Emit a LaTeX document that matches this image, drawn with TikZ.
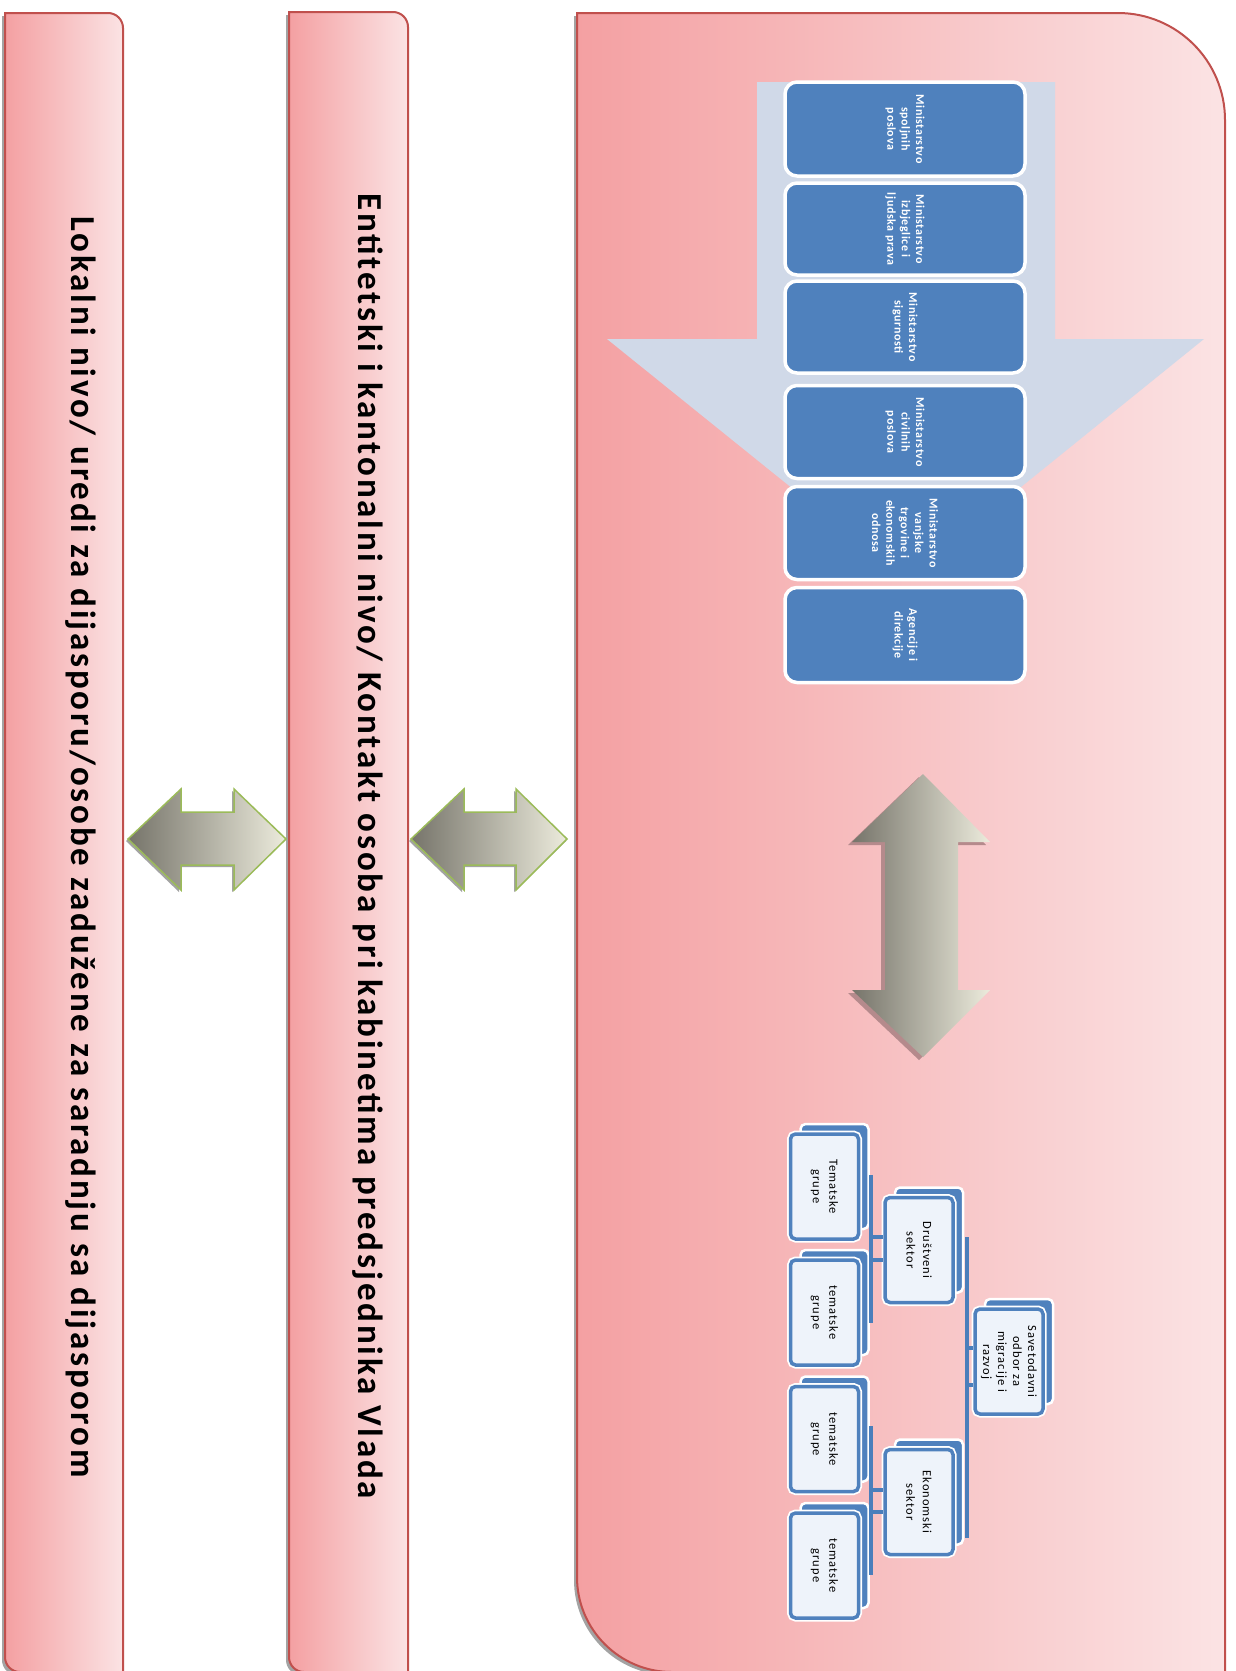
\documentclass[tikz,border=0pt]{standalone}
\usepackage{fontspec}
\setmainfont{Carlito}
\newfontfamily\barfont[LetterSpace=8]{Carlito}
\newfontfamily\boxfont[LetterSpace=5]{Carlito}
\newfontfamily\orgfont[LetterSpace=8]{Carlito}
\definecolor{barL}{HTML}{F4A0A2}
\definecolor{barR}{HTML}{FBE3E4}
\definecolor{barB}{HTML}{C0504D}
\definecolor{shd}{HTML}{A3A3A3}
\definecolor{blueB}{HTML}{4F81BD}
\definecolor{busB}{HTML}{4A7EBB}
\definecolor{arrBlue}{HTML}{D0D9E8}
\definecolor{arrD}{HTML}{76746A}
\definecolor{arrL}{HTML}{ECEBDC}
\definecolor{arrG}{HTML}{9BBB59}
\definecolor{ofill}{HTML}{EEF3FA}
\definecolor{vshd}{HTML}{B58A8C}
\tikzset{
  barshade/.style={left color=barL, right color=barR, draw=barB, line width=2pt},
  bartext/.style={rotate=-90, font=\barfont\fontsize{35}{40}\selectfont\bfseries, inner sep=0pt},
  minbox/.style={rotate=-90, fill=blueB, draw=white, line width=3.5pt, rounded corners=12pt,
    minimum height=240pt, minimum width=93pt, text=white, align=center, inner sep=0pt,
    font=\boxfont\fontsize{12}{14.4}\selectfont\bfseries},
  hexarrow/.style={left color=arrD, right color=arrL, draw=arrG, line width=1.5pt},
  orgback/.style={rotate=-90, fill=blueB, draw=white, line width=2.5pt, rounded corners=5pt,
    minimum width=105pt, minimum height=68pt, inner sep=0pt},
  orgfront/.style={rotate=-90, fill=ofill, draw=blueB, line width=3.5pt, rounded corners=5pt,
    minimum width=105pt, minimum height=68pt, inner sep=0pt, align=center,
    preaction={draw=white, line width=7pt},
    font=\orgfont\fontsize{12.5}{16.5}\selectfont},
  bus/.style={draw=busB, line width=4pt}
}
\begin{document}
\begin{tikzpicture}[x=1pt,y=-1pt]
\useasboundingbox (0,0) rectangle (1235,1671);
\fill[white] (0,0) rectangle (1235,1671);

% ---- left bar ----
\fill[shd] (2,16) -- (105,16) .. controls (113.3,16) and (120,22.7) .. (120,31) -- (120,1675) -- (17,1675) .. controls (8.7,1675) and (2,1668.3) .. (2,1660) -- cycle;
\path[barshade] (5,13) -- (108,13) .. controls (116.3,13) and (123,19.7) .. (123,28) -- (123,1672) -- (20,1672) .. controls (11.7,1672) and (5,1665.3) .. (5,1657) -- cycle;
\node[bartext] (loc) at (81,847) {Lokalni nivo/ uredi za dijasporu/osobe zadužene za saradnju sa dijasporom};

% ---- middle bar ----
\fill[shd] (286,15) -- (390,15) .. controls (398.3,15) and (405,21.7) .. (405,30) -- (405,1675) -- (301,1675) .. controls (292.7,1675) and (286,1668.3) .. (286,1660) -- cycle;
\path[barshade] (289,12) -- (393,12) .. controls (401.3,12) and (408,18.7) .. (408,27) -- (408,1672) -- (304,1672) .. controls (295.7,1672) and (289,1665.3) .. (289,1657) -- cycle;
\node[bartext] (ent) at (368,846) {Entitetski i kantonalni nivo/ Kontakt osoba pri kabinetima predsjednika Vlada};

% ---- big panel ----
\fill[shd] (574,16) -- (1115,16) .. controls (1174,16) and (1222,64) .. (1222,123) -- (1222,1675) -- (669,1675) .. controls (616.5,1675) and (574,1632.5) .. (574,1580) -- cycle;
\path[barshade] (577,13) -- (1118,13) .. controls (1177,13) and (1225,61) .. (1225,120) -- (1225,1672) -- (672,1672) .. controls (619.5,1672) and (577,1629.5) .. (577,1577) -- cycle;

% ---- horizontal double arrows ----
\fill[shd] (126,841) -- (179,791) -- (179,814) -- (232,814) -- (232,791) -- (284,841) -- (232,892) -- (232,867) -- (179,867) -- (179,892) -- cycle;
\path[hexarrow] (128,839) -- (181,789) -- (181,812) -- (234,812) -- (234,789) -- (286,839) -- (234,890) -- (234,865) -- (181,865) -- (181,890) -- cycle;
\fill[shd] (409,841) -- (462,791) -- (462,814) -- (514,814) -- (514,791) -- (566,841) -- (514,892) -- (514,867) -- (462,867) -- (462,892) -- cycle;
\path[hexarrow] (411,839) -- (464,789) -- (464,812) -- (516,812) -- (516,789) -- (567,839) -- (516,890) -- (516,865) -- (464,865) -- (464,890) -- cycle;

% ---- vertical double arrow ----
\fill[vshd] (919,777) -- (986,845) -- (954,845) -- (954,993) -- (986,993) -- (919,1060) -- (848,993) -- (881,993) -- (881,845) -- (848,845) -- cycle;
\path[left color=arrD, right color=arrL] (923,774) -- (990,842) -- (958,842) -- (958,990) -- (990,990) -- (923,1057) -- (852,990) -- (885,990) -- (885,842) -- (852,842) -- cycle;

% ---- light blue down arrow ----
\fill[arrBlue] (757,82) -- (1055,82) -- (1055,339) -- (1204,339) -- (906,580) -- (607,339) -- (757,339) -- cycle;

% ---- ministries ----
\node[minbox, minimum width=94pt] (m1) at (905,129) {Ministarstvo\\spoljnih\\poslova};
\node[minbox, minimum width=92pt] (m2) at (905,229) {Ministarstvo\\izbjeglice i\\ljudska prava};
\node[minbox, minimum width=92pt] (m3) at (905,327) {Ministarstvo\\sigurnosti};
\node[minbox, minimum width=93pt] (m4) at (905,432) {Ministarstvo\\civilnih\\poslova};
\node[minbox, minimum width=93pt] (m5) at (905,533) {Ministarstvo\\vanjske\\trgovine i\\ekonomskih\\odnosa};
\node[minbox, minimum width=95pt] (m6) at (905,635) {Agencije i\\direkcije};

% ---- org chart ----
\coordinate (rbTop) at (967,1237);
\coordinate (rbBot) at (967,1538);
\coordinate (rs1) at (967,1348);
\coordinate (rs2) at (967,1385);
\coordinate (dbTop) at (871,1175);
\coordinate (dbBot) at (871,1323);
\coordinate (ds1) at (871,1237);
\coordinate (ds2) at (871,1260);
\coordinate (ebTop) at (871,1426);
\coordinate (ebBot) at (871,1575);
\coordinate (es1) at (871,1490);
\coordinate (es2) at (871,1512);

\node[orgback] (rootb) at (1019,1351.5) {};
\node[orgback] (drusb) at (929,1240) {};
\node[orgback] (ekonb) at (929,1492) {};
\node[orgback] (t1b) at (834.5,1176.5) {};
\node[orgback] (t2b) at (834.5,1302.5) {};
\node[orgback] (t3b) at (834.5,1429) {};
\node[orgback] (t4b) at (834.5,1555.5) {};

\draw[bus] (rbTop) -- (rbBot);
\draw[bus] (dbTop) -- (dbBot);
\draw[bus] (ebTop) -- (ebBot);

\node[orgfront, font=\orgfont\fontsize{12.5}{15}\selectfont] (root) at (1009,1361.5) {Savetodavni\\odbor za\\migracije i\\razvoj};
\node[orgfront] (drus) at (919,1250) {Društveni\\sektor};
\node[orgfront] (ekon) at (919,1502) {Ekonomski\\sektor};
\node[orgfront] (t1) at (824.5,1186.5) {Tematske\\grupe};
\node[orgfront] (t2) at (824.5,1312.5) {tematske\\grupe};
\node[orgfront] (t3) at (824.5,1439) {tematske\\grupe};
\node[orgfront] (t4) at (824.5,1565.5) {tematske\\grupe};

\draw[bus] (rs1) -- (rs1 -| root.south);
\draw[bus] (rs2) -- (rs2 -| root.south);
\draw[bus] (ds1) -- (ds1 -| drus.south);
\draw[bus] (ds2) -- (ds2 -| drus.south);
\draw[bus] (es1) -- (es1 -| ekon.south);
\draw[bus] (es2) -- (es2 -| ekon.south);
\end{tikzpicture}
\end{document}
